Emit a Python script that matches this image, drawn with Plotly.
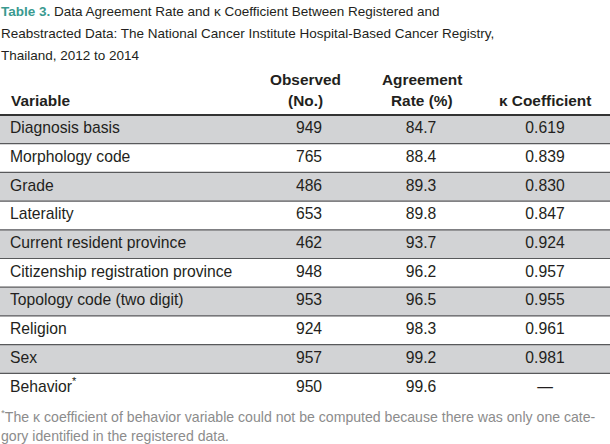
import plotly.graph_objects as go

variables = ["Diagnosis basis", "Morphology code", "Grade", "Laterality",
             "Current resident province", "Citizenship registration province",
             "Topology code (two digit)", "Religion", "Sex", "Behavior<sup>*</sup>"]
observed = [949, 765, 486, 653, 462, 948, 953, 924, 957, 950]
agreement = [84.7, 88.4, 89.3, 89.8, 93.7, 96.2, 96.5, 98.3, 99.2, 99.6]
kappa = [0.619, 0.839, 0.830, 0.847, 0.924, 0.957, 0.955, 0.961, 0.981, None]

title_lines = ["<span style='color:#3a9a90'><b>Table 3.</b></span> Data Agreement Rate and κ Coefficient Between Registered and",
               "Reabstracted Data: The National Cancer Institute Hospital-Based Cancer Registry,",
               "Thailand, 2012 to 2014"]
footnote_lines = ["<sup>*</sup>The κ coefficient of behavior variable could not be computed because there was only one cate-",
                  "gory identified in the registered data."]

FONT = "Liberation Sans, Arial, sans-serif"
TXT = "#231f20"
GRAY = "#d2d3d5"
BODY = 15.7

n = len(variables)
rows = list(range(n))

fig = go.Figure()

# row backgrounds
for i in rows:
    if i % 2 == 0:
        fig.add_shape(type="rect", xref="x", yref="y", x0=0, x1=610,
                      y0=i - 0.5, y1=i + 0.5, fillcolor=GRAY, line_width=0, layer="below")
# separators
for i in rows[1:]:
    fig.add_shape(type="line", xref="x", yref="y", x0=0, x1=610, y0=i - 0.5, y1=i - 0.5,
                  line=dict(color="#58595b", width=1.2))
fig.add_shape(type="line", xref="x", yref="y", x0=0, x1=610, y0=-0.5, y1=-0.5,
              line=dict(color="#333333", width=2.2))

def fmt_k(v):
    return "—" if v is None else f"{v:.3f}"

body_font = dict(family=FONT, size=BODY, color=TXT)
fig.add_trace(go.Scatter(x=[10] * n, y=rows, mode="text", text=variables,
                         textposition="middle right", textfont=body_font, hoverinfo="skip"))
fig.add_trace(go.Scatter(x=[309] * n, y=rows, mode="text", text=[str(v) for v in observed],
                         textposition="middle center", textfont=body_font, hoverinfo="skip"))
fig.add_trace(go.Scatter(x=[421] * n, y=rows, mode="text", text=[f"{v:.1f}" for v in agreement],
                         textposition="middle center", textfont=body_font, hoverinfo="skip"))
fig.add_trace(go.Scatter(x=[545] * n, y=rows, mode="text", text=[fmt_k(v) for v in kappa],
                         textposition="middle center", textfont=body_font, hoverinfo="skip"))

ann = []
hdr_font = dict(family=FONT, size=15.4, color=TXT)
hy1, hy2 = -1.72, -1.02
ann.append(dict(x=9, y=hy2, text="<b>Variable</b>", xanchor="left", yanchor="middle", font=hdr_font))
ann.append(dict(x=305, y=hy1, text="<b>Observed</b>", xanchor="center", yanchor="middle", font=hdr_font))
ann.append(dict(x=305, y=hy2, text="<b>(No.)</b>", xanchor="center", yanchor="middle", font=hdr_font))
ann.append(dict(x=422, y=hy1, text="<b>Agreement</b>", xanchor="center", yanchor="middle", font=hdr_font))
ann.append(dict(x=422, y=hy2, text="<b>Rate (%)</b>", xanchor="center", yanchor="middle", font=hdr_font))
ann.append(dict(x=545, y=hy2, text="<b>κ Coefficient</b>", xanchor="center", yanchor="middle", font=hdr_font))

for k, t in enumerate(title_lines):
    ann.append(dict(x=0, xshift=-1, y=-4.09 + k * 0.75, text=t, xanchor="left", yanchor="middle",
                    font=dict(family=FONT, size=13.5, color=TXT)))
for k, t in enumerate(footnote_lines):
    ann.append(dict(x=0, xshift=-1, y=9.98 + k * 0.7, text=t, xanchor="left", yanchor="middle",
                    font=dict(family=FONT, size=14.1, color="#8c8c8c")))

for a in ann:
    a.update(xref="x", yref="y", showarrow=False)

fig.update_layout(
    width=610, height=444, margin=dict(l=0, r=0, t=0, b=0),
    paper_bgcolor="white", plot_bgcolor="white", showlegend=False, annotations=ann,
    xaxis=dict(range=[0, 610], visible=False, fixedrange=True),
    yaxis=dict(range=[10.963, -4.507], visible=False, fixedrange=True),
)
fig.write_html("out.html", config={"displayModeBar": False},
               post_script="document.body.style.margin='0';document.body.style.overflow='hidden';")
